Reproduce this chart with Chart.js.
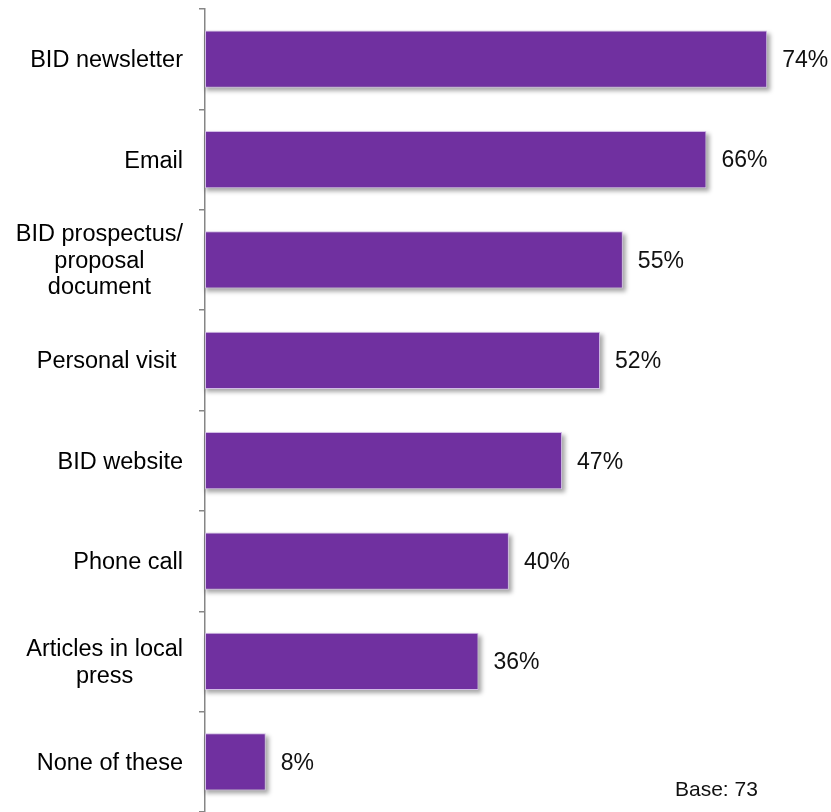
<!DOCTYPE html>
<html>
<head>
<meta charset="utf-8">
<script src="https://cdn.jsdelivr.net/npm/chart.js@4"></script>
<style>
  html, body { margin: 0; padding: 0; background: #fff; }
  #wrap { width: 831px; height: 812px; }
</style>
</head>
<body>
<div id="wrap"><canvas id="chart" width="831" height="812"></canvas></div>
<script>
// Catégories (lignes multiples = tableau) et pourcentages
const categories = [
  'BID newsletter',
  'Email',
  ['BID prospectus/', 'proposal', 'document'],
  'Personal visit ',
  'BID website',
  'Phone call',
  ['Articles in local', 'press'],
  'None of these'
];
const values = [74, 66, 55, 52, 47, 40, 36, 8];
const baseText = 'Base: 73';

const FONT = '"Liberation Sans", Arial, sans-serif';

// Ombre portée : rectangle gris flouté décalé sous chaque barre
const shadowPlugin = {
  id: 'barShadow',
  beforeDatasetsDraw(chart) {
    const ctx = chart.ctx;
    const meta = chart.getDatasetMeta(0);
    ctx.save();
    ctx.filter = 'blur(2px)';
    ctx.fillStyle = 'rgba(0,0,0,0.35)';
    meta.data.forEach(bar => {
      const x0 = bar.base;
      const h = bar.height;
      ctx.fillRect(x0 + 1, bar.y - h / 2 + 3, bar.x - x0 + 2, h);
    });
    ctx.restore();
  }
};

// Libellés de catégories : bloc aligné à droite, lignes centrées entre elles
const categoryLabels = {
  id: 'categoryLabels',
  afterDraw(chart) {
    const ctx = chart.ctx;
    const yScale = chart.scales.y;
    const right = 183;
    const lineH = 26.5;
    ctx.save();
    ctx.font = '23.5px ' + FONT;
    ctx.fillStyle = '#000';
    ctx.textAlign = 'center';
    ctx.textBaseline = 'middle';
    categories.forEach((label, i) => {
      const lines = Array.isArray(label) ? label : [label];
      const w = Math.max(...lines.map(l => ctx.measureText(l).width));
      const cx = right - w / 2;
      const y0 = yScale.getPixelForValue(i) + 1.5 - (lines.length - 1) * lineH / 2;
      lines.forEach((l, k) => ctx.fillText(l, cx, y0 + k * lineH));
    });
    ctx.restore();
  }
};

// Valeurs en % à droite des barres + mention de la base
const valueLabels = {
  id: 'valueLabels',
  afterDraw(chart) {
    const ctx = chart.ctx;
    const meta = chart.getDatasetMeta(0);
    ctx.save();
    ctx.font = '23px ' + FONT;
    ctx.fillStyle = '#111';
    ctx.textAlign = 'left';
    ctx.textBaseline = 'middle';
    meta.data.forEach((bar, i) => {
      ctx.fillText(values[i] + '%', bar.x + 15, bar.y + 1.5);
    });
    ctx.font = '21px ' + FONT;
    ctx.fillText(baseText, 675, 790);
    ctx.restore();
  }
};

new Chart(document.getElementById('chart'), {
  type: 'bar',
  data: {
    labels: categories,
    datasets: [{
      data: values,
      backgroundColor: '#7030A0',
      borderColor: '#D2BCE6',
      borderWidth: 1,
      borderSkipped: false,
      categoryPercentage: 1,
      barPercentage: 0.57
    }]
  },
  options: {
    indexAxis: 'y',
    responsive: false,
    animation: false,
    layout: { padding: { top: 9, right: 0, bottom: 0, left: 0 } },
    plugins: {
      legend: { display: false },
      tooltip: { enabled: false }
    },
    scales: {
      x: {
        display: false,
        min: 0,
        max: 82.4
      },
      y: {
        offset: true,
        ticks: { display: false },
        grid: {
          offset: true,
          drawOnChartArea: false,
          drawTicks: true,
          tickLength: 6,
          color: '#868686',
          lineWidth: 1.5
        },
        border: { display: true, color: '#868686', width: 1.5 },
        afterFit(scale) { scale.width = 205; }
      }
    }
  },
  plugins: [shadowPlugin, categoryLabels, valueLabels]
});
</script>
</body>
</html>
